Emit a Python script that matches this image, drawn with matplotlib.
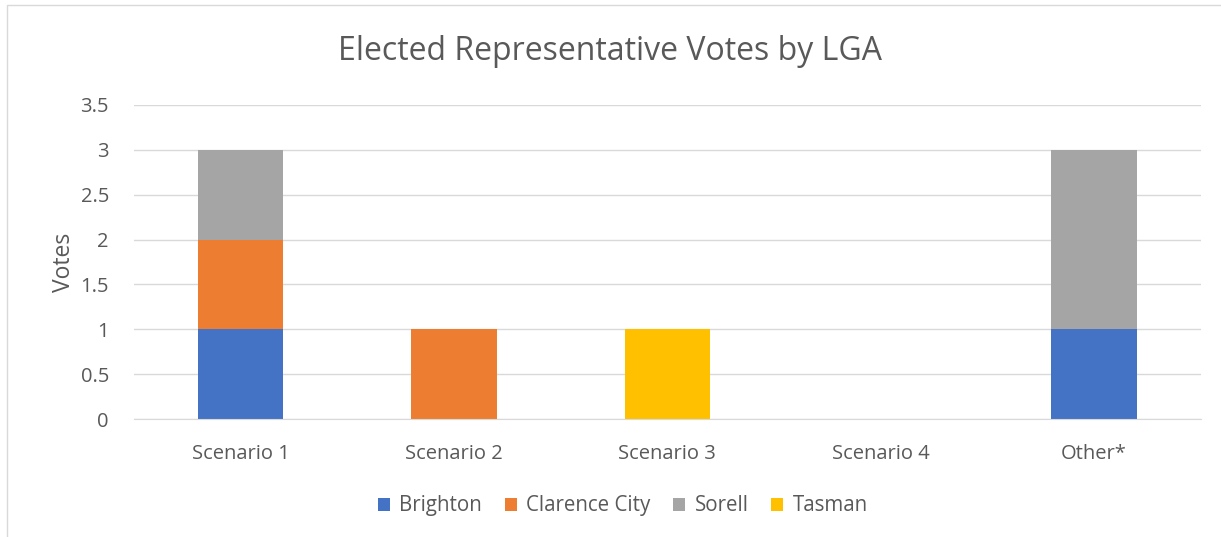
import matplotlib.pyplot as plt
import numpy as np

categories = ["Scenario 1", "Scenario 2", "Scenario 3", "Scenario 4", "Other*"]
brighton = [1, 0, 0, 0, 1]
clarence_city = [1, 1, 0, 0, 0]
sorell = [1, 0, 0, 0, 2]
tasman = [0, 0, 1, 0, 0]

series = [
    ("Brighton", brighton, "#4472C4"),
    ("Clarence City", clarence_city, "#ED7D31"),
    ("Sorell", sorell, "#A5A5A5"),
    ("Tasman", tasman, "#FFC000"),
]

plt.rcParams["font.family"] = ["Open Sans", "DejaVu Sans"]
txt = "#595959"

fig = plt.figure(figsize=(12.21, 5.37), dpi=100)
ax = fig.add_axes([0.1097, 0.2197, 0.8737, 0.5848])

x = np.arange(len(categories))
bottom = np.zeros(len(categories))
for name, vals, color in series:
    vals = np.array(vals, dtype=float)
    ax.bar(x, vals, width=0.4, bottom=bottom, color=color, label=name, zorder=2)
    bottom += vals

ax.set_xlim(-0.5, len(categories) - 0.5)
ax.set_ylim(0, 3.5)
ax.set_yticks(np.arange(0, 3.51, 0.5))
ax.set_yticklabels(["0", "0.5", "1", "1.5", "2", "2.5", "3", "3.5"])
ax.set_xticks(x)
ax.set_xticklabels(categories)
ax.yaxis.grid(True, color="#D9D9D9", lw=1, zorder=0)
for s in ["top", "right", "left"]:
    ax.spines[s].set_visible(False)
ax.spines["bottom"].set_color("#D9D9D9")
ax.tick_params(axis="both", length=0, labelsize=14.5, colors=txt)
ax.tick_params(axis="x", pad=18)
ax.tick_params(axis="y", pad=18)
ax.set_ylabel("Votes", fontsize=16.5, color=txt, labelpad=3)

fig.suptitle("Elected Representative Votes by LGA", fontsize=23, color=txt, y=0.935)

ax.legend(loc="center", ncol=4, frameon=False, fontsize=14.8,
          handlelength=0.6, handleheight=0.6, columnspacing=1.1,
          handletextpad=0.45, labelcolor=txt)
leg = ax.get_legend()
leg.set_bbox_to_anchor((0.51, 0.058), transform=fig.transFigure)

fig.patches.append(plt.Rectangle((0.006, -0.01), 1.1, 1.0, transform=fig.transFigure,
                                 fill=False, edgecolor="#D9D9D9", lw=1))

fig.savefig("out.png", dpi=100)
